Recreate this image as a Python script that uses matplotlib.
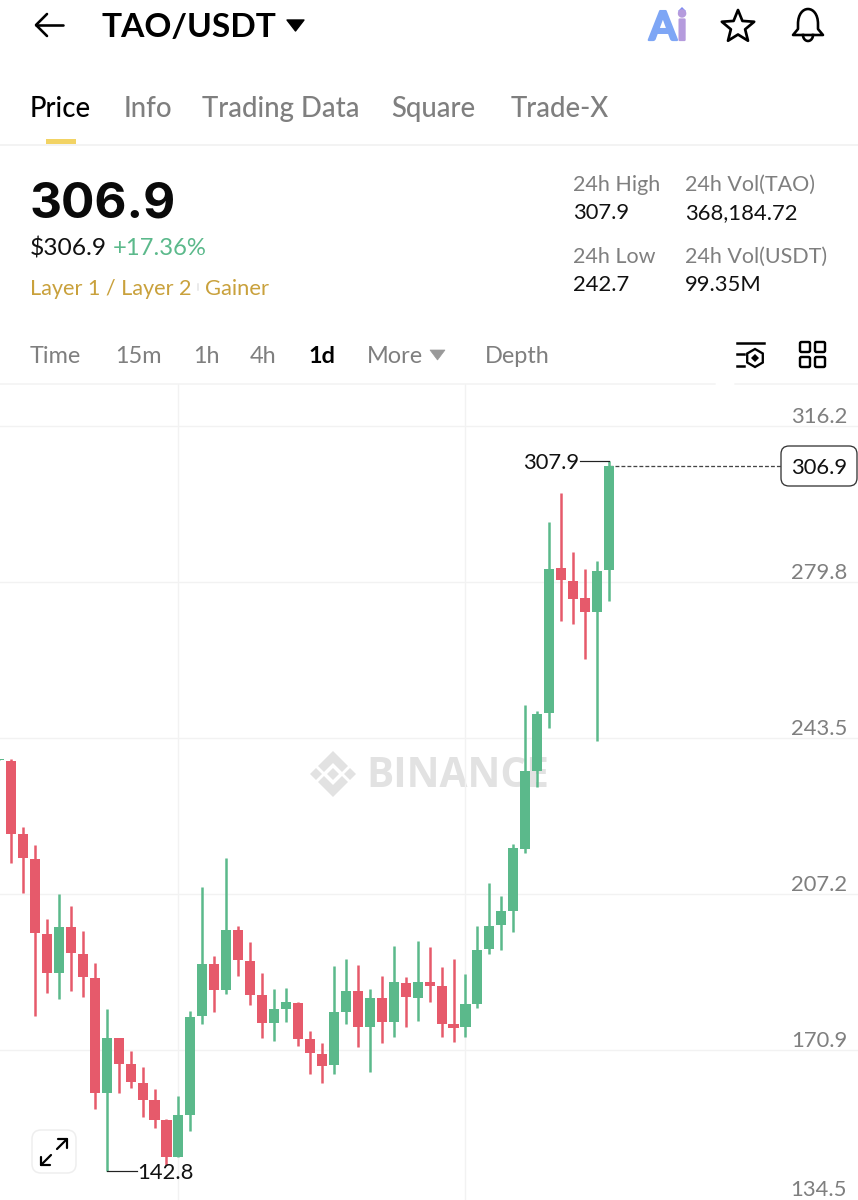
import numpy as np
import matplotlib
matplotlib.use('Agg')
import matplotlib.pyplot as plt
import matplotlib.patheffects as pe
from matplotlib.patches import FancyBboxPatch, Polygon, PathPatch
from matplotlib.path import Path

plt.rcParams['font.family'] = ['Lato', 'DejaVu Sans']

# daily candles (first one is the stub cut by the left edge)
opens = [238.4, 238.2, 221.2, 215.3, 197.9, 188.8, 199.5, 193.2, 187.7, 160.9, 173.7, 167.6, 163.2, 159.3, 154.6,
         146.0, 155.8, 178.8, 190.9, 184.9, 198.8, 191.6, 183.7, 177.2, 180.4, 181.8, 173.5, 170.0, 167.4, 179.7,
         184.6, 176.3, 183.0, 177.4, 186.5, 183.0, 186.7, 185.8, 177.0, 176.3, 181.6, 194.4, 200.0, 203.2, 217.7,
         235.8, 249.3, 283.1, 280.0, 276.1, 272.8, 282.6]
closes = [238.7, 221.2, 215.6, 198.1, 188.8, 199.5, 193.5, 187.9, 160.9, 173.7, 167.6, 163.5, 159.3, 154.6, 146.0,
          155.8, 178.6, 190.9, 184.9, 198.8, 191.8, 183.7, 177.2, 180.4, 182.1, 173.5, 170.2, 167.2, 179.7, 184.6,
          176.3, 183.0, 177.4, 186.7, 183.2, 186.7, 185.8, 177.0, 176.0, 181.6, 194.2, 199.8, 203.2, 217.9, 235.8,
          249.1, 282.8, 280.3, 275.8, 272.8, 282.4, 306.9]
highs = [238.7, 238.6, 222.8, 218.6, 201.4, 207.2, 204.4, 198.6, 191.1, 180.4, 173.7, 170.7, 166.9, 161.8, 154.8,
         160.2, 180.0, 208.8, 192.8, 215.6, 199.8, 196.0, 188.8, 185.1, 185.3, 182.1, 175.3, 172.5, 190.4, 192.1,
         190.7, 185.1, 188.1, 195.1, 187.9, 196.3, 194.9, 190.2, 192.1, 188.6, 199.8, 209.8, 206.7, 218.8, 251.2,
         249.8, 293.8, 300.5, 286.8, 282.8, 284.7, 307.9]
lows = [238.4, 214.4, 207.4, 178.8, 184.2, 182.8, 184.6, 183.2, 157.2, 142.8, 160.9, 162.1, 155.3, 152.7, 144.1,
        146.0, 152.1, 177.0, 179.7, 183.9, 188.1, 181.4, 173.7, 173.0, 177.4, 171.8, 165.3, 163.2, 165.3, 177.0,
        171.6, 165.8, 172.5, 173.9, 176.3, 177.6, 182.1, 173.9, 172.8, 173.9, 180.7, 193.2, 194.2, 198.4, 216.7,
        232.1, 245.8, 270.7, 270.0, 261.9, 242.8, 275.4]
price_ticks = [316.2, 279.8, 243.5, 207.2, 170.9, 134.5]
time_gridlines = [15, 39]
last_price = 306.9

GREEN = '#5BB98B'
RED = '#E65A6B'
GRID = '#F2F2F2'
GREY = '#7F7F7F'
W, H = 858, 1200

fig = plt.figure(figsize=(W / 100, H / 100), dpi=100, facecolor='white')


def px_axes(zorder):
    a = fig.add_axes([0, 0, 1, 1], zorder=zorder)
    a.set_xlim(0, W)
    a.set_ylim(H, 0)
    a.axis('off')
    a.patch.set_alpha(0)
    return a


def fs(px):
    return px * 72 / 100


# watermark goes under the chart
bg = px_axes(0)
cx, cy = 333, 774
wm = '#E2E2E2'
bg.add_patch(Polygon([(cx, cy - 23), (cx + 15, cy - 8), (cx + 9, cy - 2), (cx, cy - 11), (cx - 9, cy - 2), (cx - 15, cy - 8)], fc=wm, ec='none'))
bg.add_patch(Polygon([(cx, cy + 23), (cx + 15, cy + 8), (cx + 9, cy + 2), (cx, cy + 11), (cx - 9, cy + 2), (cx - 15, cy + 8)], fc=wm, ec='none'))
for dx in (-17, 0, 17):
    bg.add_patch(Polygon([(cx + dx - 6, cy), (cx + dx, cy - 6), (cx + dx + 6, cy), (cx + dx, cy + 6)], fc=wm, ec='none'))
bg.text(366, 787, 'BINANCE', fontsize=fs(40.5), fontweight='bold', color=wm, family=['Open Sans', 'DejaVu Sans'], va='baseline')

# chart area
chart_top, chart_bot = 384, H
ax = fig.add_axes([0, 0, 1, (chart_bot - chart_top) / H], zorder=1)
ax.patch.set_alpha(0)
for s in ax.spines.values():
    s.set_visible(False)

idx = np.arange(len(opens))
o, c, hi, lo = map(np.array, (opens, closes, highs, lows))
cols = [GREEN if b >= a else RED for a, b in zip(o, c)]
ax.vlines(idx, lo, hi, colors=cols, lw=fs(2.5), zorder=3)
ax.bar(idx, np.abs(c - o), bottom=np.minimum(o, c), width=0.84, color=cols, lw=0, zorder=4)

step = 11.96
ax.set_yticks(price_ticks)
ax.set_xticks(time_gridlines)
ax.set_xlim(1 - 11 / step, 1 + (W - 11) / step)
ax.set_ylim(170.9 - 150 * 0.2327, 170.9 + 666 * 0.2327)
ax.grid(True, color=GRID, lw=fs(1.4), zorder=0)
ax.tick_params(length=0, labelleft=False, labelbottom=False)

for p in price_ticks:
    if p < ax.get_ylim()[0]:
        # last label sits above a gridline that is cropped off the picture
        bg.text(847, 1196, f'{p}', fontsize=fs(22), color=GREY, ha='right', va='baseline')
    else:
        ax.annotate(f'{p}', xy=(1, p), xycoords=('axes fraction', 'data'), xytext=(-11, 3),
                    textcoords='offset pixels', ha='right', va='baseline', fontsize=fs(22), color=GREY)

# max / min callouts
imax = int(np.argmax(hi))
imin = int(np.argmin(lo))
ax.plot([imax, imax - 29 / step], [hi[imax], hi[imax]], color='#222222', lw=fs(1.2), zorder=5)
ax.annotate(f'{hi[imax]}', xy=(imax - 29 / step, hi[imax]), xytext=(-1, -8), textcoords='offset pixels',
            ha='right', va='baseline', fontsize=fs(22), color='#111111')
ax.plot([imin, imin + 30 / step], [lo[imin], lo[imin]], color='#222222', lw=fs(1.2), zorder=5)
ax.annotate(f'{lo[imin]}', xy=(imin + 30 / step, lo[imin]), xytext=(1, -8), textcoords='offset pixels',
            ha='left', va='baseline', fontsize=fs(22), color='#111111')

# last price line and tag
ax.plot([idx[-1], idx[-1] + 172 / step], [last_price, last_price], color='#444444', lw=fs(1.3), ls=(0, (3, 1.6)), zorder=2)

ui = px_axes(2)
ui.add_patch(FancyBboxPatch((785, 450), 68, 32, boxstyle='round,pad=4,rounding_size=8', fc='white', ec='#333333', lw=fs(1.3)))
ui.text(819, 474, f'{last_price}', fontsize=fs(22), color='#111111', ha='center', va='baseline')

# expand button
ui.add_patch(FancyBboxPatch((36, 1134), 36, 35, boxstyle='round,pad=4,rounding_size=9', fc='white', ec='#EEEEEE', lw=fs(1.5)))
ui.plot([41, 51], [1165, 1155], color='black', lw=fs(2.2), solid_capstyle='round')
ui.plot([57, 67], [1149, 1139], color='black', lw=fs(2.2), solid_capstyle='round')
ui.plot([41, 41, 50], [1157, 1165, 1165], color='black', lw=fs(2.2), solid_capstyle='round')
ui.plot([58, 67, 67], [1139, 1139, 1148], color='black', lw=fs(2.2), solid_capstyle='round')

# header
ui.plot([36, 63], [25, 25], color='black', lw=fs(2.6), solid_capstyle='round')
ui.plot([47, 36, 47], [14, 25, 36], color='black', lw=fs(2.6), solid_capstyle='round', solid_joinstyle='round')
ui.text(102, 37, 'TAO/USDT', fontsize=fs(33.5), fontweight='bold', color='black', va='baseline')
ui.add_patch(Polygon([(287, 20), (304, 20), (295.5, 31)], fc='black', ec='black', lw=1, joinstyle='round'))

ui.text(649, 40, 'A', fontsize=fs(40), fontweight='bold', color='#7EA6F5', va='baseline',
        path_effects=[pe.withStroke(linewidth=1.6, foreground='#7EA6F5')])
ui.text(677, 40, 'i', fontsize=fs(40), fontweight='bold', color='#B59BDD', va='baseline',
        path_effects=[pe.withStroke(linewidth=1.6, foreground='#B59BDD')])
ui.plot([682], [11], marker='D', ms=fs(6), color='#7C8BF2', mew=0)

ang = np.deg2rad(-90 + 36 * np.arange(10))
rad = np.where(np.arange(10) % 2 == 0, 17, 7.5)
ui.add_patch(Polygon(np.c_[738 + rad * np.cos(ang), 27 + rad * np.sin(ang)], closed=True, fc='none', ec='black', lw=fs(2.7), joinstyle='round'))

bell = Path([(793, 35), (798, 29), (798, 24), (798, 4), (818, 4), (818, 24), (818, 29), (823, 35), (793, 35)],
            [Path.MOVETO, Path.LINETO, Path.LINETO, Path.CURVE4, Path.CURVE4, Path.CURVE4, Path.LINETO, Path.LINETO, Path.CLOSEPOLY])
ui.add_patch(PathPatch(bell, fc='none', ec='black', lw=fs(2.6), joinstyle='round'))
ui.plot(808 + 5 * np.cos(np.linspace(0, np.pi, 20)), 35 + 6 * np.sin(np.linspace(0, np.pi, 20)), color='black', lw=fs(2.6))

# tabs
tab_names = ['Price', 'Info', 'Trading Data', 'Square', 'Trade-X']
tab_x = [30, 124, 202, 391, 511]
for name, x in zip(tab_names, tab_x):
    ui.text(x, 117, name, fontsize=fs(27.5), color='black' if name == 'Price' else GREY, va='baseline', fontweight='medium')
ui.add_patch(plt.Rectangle((46, 139), 30, 5, fc='#F2D364', ec='none'))
ui.plot([0, W], [144.5, 144.5], color='#F0F0F0', lw=fs(1.5))

# price block
ui.text(30, 218, '306.9', fontsize=fs(49.5), fontweight='bold', color='#0A0A0A', va='baseline', family=['Inter', 'DejaVu Sans'])
ui.text(30, 255, '$306.9', fontsize=fs(24.5), color='#111111', va='baseline')
ui.text(113, 255, '+17.36%', fontsize=fs(23.7), color=GREEN, va='baseline')
ui.text(30, 295, 'Layer 1 / Layer 2', fontsize=fs(21.7), color='#C9A13C', va='baseline')
ui.plot([198, 198], [284, 290], color='#E4E4E4', lw=fs(1.5))
ui.text(205, 295, 'Gainer', fontsize=fs(22), color='#C9A13C', va='baseline')

stat_labels = ['24h High', '24h Vol(TAO)', '24h Low', '24h Vol(USDT)']
stat_values = ['307.9', '368,184.72', '242.7', '99.35M']
stat_x = [573, 685, 573, 685]
stat_y = [191, 191, 263, 263]
for lab, val, x, y in zip(stat_labels, stat_values, stat_x, stat_y):
    ui.text(x, y, lab, fontsize=fs(21.5), color=GREY, va='baseline')
    ui.text(x, y + 28, val, fontsize=fs(22), color='#111111', va='baseline')

# interval row
iv_names = ['Time', '15m', '1h', '4h', '1d', 'More', 'Depth']
iv_x = [30, 115, 193, 250, 308, 367, 485]
for name, x in zip(iv_names, iv_x):
    ui.text(x, 363, name, fontsize=fs(23.5), color='black' if name == '1d' else GREY, va='baseline',
            fontweight='bold' if name == '1d' else 'normal')
ui.add_patch(Polygon([(430, 350), (445, 350), (437.5, 360)], fc='#999999', ec='#999999', lw=0.5))

# the two right hand icons
ui.plot([737, 764], [343, 343], color='black', lw=fs(2.5))
ui.plot([737, 744], [354, 354], color='black', lw=fs(2.5))
ui.plot([737, 744], [366, 366], color='black', lw=fs(2.5))
hx = 755 + 9 * np.sin(np.deg2rad(60 * np.arange(6)))
hy = 358 + 9 * np.cos(np.deg2rad(60 * np.arange(6)))
ui.add_patch(Polygon(np.c_[hx, hy], closed=True, fc='none', ec='black', lw=fs(2.3)))
ui.plot([755], [358], marker='D', ms=fs(5), color='black', mew=0)
for x0 in (800, 815):
    for y0 in (342, 357):
        ui.add_patch(FancyBboxPatch((x0 + 1, y0 + 1), 8, 8, boxstyle='round,pad=1,rounding_size=1.5', fc='none', ec='black', lw=fs(2.4)))
ui.plot([0, 715], [384, 384], color='#F3F3F3', lw=fs(1.5))
ui.plot([735, W], [384, 384], color='#F3F3F3', lw=fs(1.5))

fig.savefig('out.png', dpi=100)
